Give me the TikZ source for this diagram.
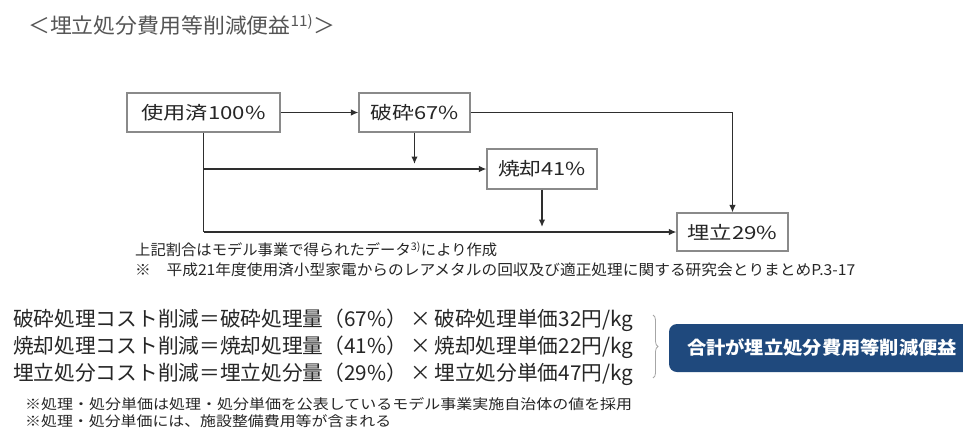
\documentclass[tikz,border=0pt]{standalone}
\usepackage{graphicx}
\usepackage{fontspec}
\setmainfont{Noto Sans CJK JP}
\usetikzlibrary{arrows.meta,decorations.pathreplacing,shadows}
\definecolor{boxgray}{HTML}{8A8A8A}
\definecolor{textdark}{HTML}{262626}
\definecolor{linedark}{HTML}{2E2E2E}
\definecolor{titlegray}{HTML}{555555}
\definecolor{navy}{HTML}{1F497D}
\newcommand\fitw[2]{\resizebox{#1}{\height}{#2}}
\begin{document}
\begin{tikzpicture}[x=1pt,y=-1pt,
  box/.style={draw=boxgray, line width=1.1pt, fill=white, inner sep=0pt, text=textdark,
    drop shadow={shadow xshift=1.2pt, shadow yshift=-1.2pt, fill=black!40, opacity=0.5}},
  flow/.style={draw=linedark, line width=1.4pt, -{Latex[length=7.5pt,width=6.5pt]}},
  seg/.style={draw=linedark, line width=1.4pt},
  txt/.style={inner sep=0pt, text=textdark, anchor=west},
  boxfont/.style={font=\fontsize{18pt}{20pt}\selectfont},
  eqfont/.style={font=\fontsize{20.5pt}{22pt}\selectfont},
  notefont/.style={font=\fontsize{15pt}{17pt}\selectfont},
  fnfont/.style={font=\fontsize{14pt}{16pt}\selectfont},
]
\fill[white] (0,0) rectangle (963,432);
\useasboundingbox (0,0) rectangle (963,432);

% title
\node[txt, text=titlegray, font=\fontsize{21pt}{24pt}\selectfont] (title) at (28,25) {\fitw{307pt}{＜埋立処分費用等削減便益\textsuperscript{11)}＞}};

% boxes
\node[box, boxfont, minimum width=153pt, minimum height=39pt] (u) at (203.5,112.5) {\fitw{124pt}{使用済100\%}};
\node[box, boxfont, minimum width=111pt, minimum height=39pt] (h) at (414.5,112.5) {\fitw{88pt}{破砕67\%}};
\node[box, boxfont, minimum width=110pt, minimum height=40pt] (s) at (542,169) {\fitw{88pt}{焼却41\%}};
\node[box, boxfont, minimum width=111pt, minimum height=38pt] (b) at (732.5,232) {\fitw{90pt}{埋立29\%}};

% connectors
\coordinate (j1) at (u.south |- s.west);
\coordinate (j2) at (u.south |- b.west);
\draw[flow] (u.east) -- (h.west);
\draw[flow] (h.east) -| (b.north);
\draw[seg] (u.south) -- (j2);
\draw[flow] (j1) -- (s.west);
\draw[flow] (j2) -- (b.west);
\draw[flow, shorten >=5pt] (h.south) -- (h.south |- s.west);
\draw[flow, shorten >=5pt] (s.south) -- (s.south |- b.west);

% notes
\node[txt, notefont] (n1) at (135,249) {\fitw{362pt}{上記割合はモデル事業で得られたデータ\textsuperscript{3)}により作成}};
\node[txt, notefont] (n2) at (135,270) {\fitw{720pt}{※\quad 平成21年度使用済小型家電からのレアメタルの回収及び適正処理に関する研究会とりまとめP.3-17}};

% formulas
\node[txt, eqfont] (f1) at (13,320) {\fitw{620pt}{破砕処理コスト削減＝破砕処理量（67\%）\,×\,破砕処理単価32円/kg}};
\node[txt, eqfont] (f2) at (13,347) {\fitw{620pt}{焼却処理コスト削減＝焼却処理量（41\%）\,×\,焼却処理単価22円/kg}};
\node[txt, eqfont] (f3) at (13,374) {\fitw{620pt}{埋立処分コスト削減＝埋立処分量（29\%）\,×\,埋立処分単価47円/kg}};

% brace
\coordinate (bt) at (653,315);
\coordinate (bb) at (653,378);
\draw[decorate, decoration={brace, amplitude=5pt}, draw=gray!70, line width=0.8pt] (bt) -- (bb);

% summary box
\node[fill=navy, rounded corners=8pt, minimum width=306pt, minimum height=48pt, inner sep=0pt, text=white, font=\fontsize{18pt}{20pt}\selectfont\bfseries] (sum) at (822,348) {\fitw{270pt}{合計が埋立処分費用等削減便益}};

% footnotes
\node[txt, fnfont] (fn1) at (25,404) {\fitw{607pt}{※処理・処分単価は処理・処分単価を公表しているモデル事業実施自治体の値を採用}};
\node[txt, fnfont] (fn2) at (25,421) {\fitw{366pt}{※処理・処分単価には、施設整備費用等が含まれる}};
\end{tikzpicture}
\end{document}
